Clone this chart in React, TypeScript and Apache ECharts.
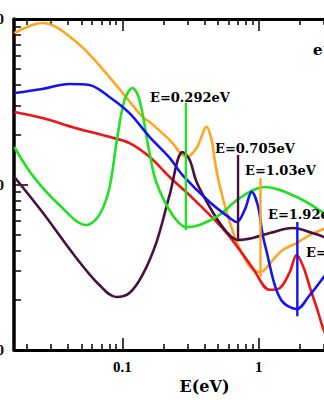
import React, { useEffect, useRef } from "react";
import * as echarts from "echarts";

// ---- axis ticks ----
const xMajorTicks = [0.1, 1, 10];
const xMinorTicks = [0.02, 0.03, 0.04, 0.05, 0.06, 0.07, 0.08, 0.09, 0.2, 0.3, 0.4, 0.5, 0.6, 0.7, 0.8, 0.9, 2, 3, 4, 5, 6, 7, 8, 9];
const yMajorTicks = [10, 100, 1000];
const yMinorTicks = [20, 30, 40, 50, 60, 70, 80, 90, 200, 300, 400, 500, 600, 700, 800, 900];
const xLabels = [0.1, 1];
const yLabels = [10, 100, 1000];

// ---- curves: [E (eV), value] ----
const orangeCurve = [
  [0.0161, 822], [0.0258, 946], [0.0459, 726], [0.0802, 446], [0.1403, 256], [0.158, 239],
  [0.222, 186], [0.296, 147], [0.35, 166], [0.415, 223], [0.451, 186], [0.475, 141],
  [0.516, 99.3], [0.582, 68.2], [0.689, 45], [0.817, 34], [0.935, 30.0], [1.03, 29.6],
  [1.268, 35], [1.5, 40.2], [1.9, 44.3], [2.37, 49.5], [3.0, 53.9], [3.3, 56]
];
const blueCurve = [
  [0.0161, 357], [0.0258, 378], [0.0408, 405], [0.0572, 399], [0.0802, 338], [0.1126, 270],
  [0.158, 194], [0.222, 145], [0.276, 114], [0.436, 78.3], [0.612, 62.8], [0.689, 59.3],
  [0.789, 70.2], [0.888, 90.2], [0.983, 75.2], [1.07, 49.5], [1.145, 39.1], [1.311, 24.7],
  [1.5, 19.5], [1.9, 17.7], [2.37, 21.5], [2.96, 27.2], [3.3, 31]
];
const redCurve = [
  [0.0161, 274], [0.0258, 252], [0.0459, 219], [0.0802, 194], [0.1126, 178], [0.158, 147],
  [0.222, 111], [0.327, 82.8], [0.582, 50.9], [0.903, 31.3], [1.205, 23.1], [1.43, 23.7],
  [1.69, 29.6], [1.9, 37.5], [2.14, 31.3], [2.37, 24.0], [2.67, 17.9], [2.96, 13.6], [3.3, 11]
];
const greenCurve = [
  [0.0161, 168.5], [0.0218, 114], [0.0344, 75.2], [0.0543, 56.9], [0.0677, 65.5], [0.0802, 95.3],
  [0.0903, 178], [0.1035, 324], [0.1185, 383], [0.1334, 324], [0.158, 155], [0.178, 102],
  [0.233, 65.5], [0.296, 55.3], [0.368, 56.9], [0.516, 65.5], [0.725, 82.8], [1.107, 96.6],
  [1.9, 84.0], [3.0, 67.3], [3.3, 63]
];
const purpleCurve = [
  [0.0161, 111], [0.0258, 68.2], [0.0459, 36], [0.0677, 24.7], [0.0903, 20.9], [0.1126, 22.1],
  [0.1403, 28.4], [0.178, 45], [0.222, 86.5], [0.276, 157], [0.311, 141], [0.35, 103.5],
  [0.459, 68.2], [0.582, 51.6], [0.70, 46.2], [0.903, 47.5], [1.205, 50.9], [1.78, 54.6],
  [2.49, 50.9], [3.0, 48.2], [3.3, 46.5]
];

// ---- narrow resonances (vertical spikes) ----
const spikeEnergies = [0.292, 0.705, 1.03, 1.92];
const spikeTops = [311, 151, 109, 59.3];
const spikeBottoms = [53.1, 46, 27.6, 16.0];
const spikeColors = ["#22e022", "#4a0f3f", "#ffa51f", "#1414f0"];

const annotationTexts = ["E=0.292eV", "E=0.705eV", "E=1.03eV", "E=1.92eV", "E=3.35eV", "e\u207B"];

const COLORS = {
  orange: "#ffa51f",
  blue: "#1414f0",
  red: "#f01414",
  green: "#22e022",
  purple: "#4a0f3f",
};

const serifBold = { fontFamily: "Liberation Serif", fontWeight: "bold" as const, color: "#000" };

export default function App() {
  const ref = useRef<HTMLDivElement>(null);

  useEffect(() => {
    if (!ref.current) return;
    const chart = echarts.init(ref.current, undefined, { renderer: "svg" });

    const xBase = {
      type: "log" as const,
      logBase: 10,
      min: 0.016,
      max: 10,
      gridIndex: 0,
      splitLine: { show: false },
      minorTick: { show: false },
    };
    const yBase = {
      type: "log" as const,
      logBase: 10,
      min: 10,
      max: 1000,
      gridIndex: 0,
      splitLine: { show: false },
      minorTick: { show: false },
    };

    const lineSeries = (name: string, data: number[][], color: string) => ({
      type: "line" as const,
      name,
      data,
      xAxisIndex: 0,
      yAxisIndex: 0,
      smooth: 0.35,
      showSymbol: false,
      symbol: "none",
      lineStyle: { color, width: 2.6 },
      z: 3,
    });

    const spikeSeries = spikeEnergies.map((e, i) => ({
      type: "line" as const,
      name: "spike" + i,
      data: [[e, spikeTops[i]], [e, spikeBottoms[i]]],
      xAxisIndex: 0,
      yAxisIndex: 0,
      showSymbol: false,
      symbol: "none",
      lineStyle: { color: spikeColors[i], width: 2.4 },
      z: 4,
    }));

    const annPos = [
      [150, 97],
      [215, 148],
      [245, 170],
      [268, 214],
      [306, 252],
      [313, 50],
    ];

    const option = {
      animation: false,
      backgroundColor: "#fff",
      grid: { left: 14, right: 0, top: 19, bottom: 50, containLabel: false, outerBoundsMode: "none" },
      xAxis: [
        {
          ...xBase,
          position: "bottom",
          axisLine: { show: true, lineStyle: { color: "#000", width: 3 } },
          axisTick: { show: true, inside: true, length: 12, customValues: xMajorTicks, lineStyle: { color: "#000", width: 1.5 } },
          axisLabel: {
            show: true,
            customValues: xLabels,
            margin: 9,
            formatter: (v: number) => String(v),
            ...serifBold,
            fontSize: 15,
          },
          name: "E(eV)",
          nameLocation: "middle",
          nameGap: 28,
          nameTextStyle: { fontFamily: "DejaVu Serif", fontWeight: "bold", fontSize: 16, color: "#000" },
        },
        {
          ...xBase,
          position: "bottom",
          axisLine: { show: false },
          axisTick: { show: true, inside: true, length: 6, customValues: xMinorTicks, lineStyle: { color: "#000", width: 1.5 } },
          axisLabel: { show: false },
        },
        {
          ...xBase,
          position: "top",
          axisLine: { show: true, lineStyle: { color: "#000", width: 3 } },
          axisTick: { show: true, inside: true, length: 12, customValues: xMajorTicks, lineStyle: { color: "#000", width: 1.5 } },
          axisLabel: { show: false },
        },
        {
          ...xBase,
          position: "top",
          axisLine: { show: false },
          axisTick: { show: true, inside: true, length: 6, customValues: xMinorTicks, lineStyle: { color: "#000", width: 1.5 } },
          axisLabel: { show: false },
        },
      ],
      yAxis: [
        {
          ...yBase,
          position: "left",
          axisLine: { show: true, lineStyle: { color: "#000", width: 3.5 } },
          axisTick: { show: true, inside: true, length: 14, customValues: yMajorTicks, lineStyle: { color: "#000", width: 1.5 } },
          axisLabel: {
            show: true,
            customValues: yLabels,
            margin: 10,
            formatter: (v: number) => String(v),
            ...serifBold,
            fontSize: 15,
          },
        },
        {
          ...yBase,
          position: "left",
          axisLine: { show: false },
          axisTick: { show: true, inside: true, length: 7, customValues: yMinorTicks, lineStyle: { color: "#000", width: 1.5 } },
          axisLabel: { show: false },
        },
      ],
      series: [
        lineSeries("orange", orangeCurve, COLORS.orange),
        lineSeries("red", redCurve, COLORS.red),
        lineSeries("purple", purpleCurve, COLORS.purple),
        lineSeries("green", greenCurve, COLORS.green),
        lineSeries("blue", blueCurve, COLORS.blue),
        ...spikeSeries,
      ],
      graphic: annotationTexts.map((t, i) => ({
        type: "text",
        x: annPos[i][0],
        y: annPos[i][1],
        z: 10,
        style: {
          text: t,
          fill: "#000",
          fontFamily: "DejaVu Serif",
          fontWeight: "bold",
          fontSize: i === 5 ? 15 : 13,
          verticalAlign: "middle",
          align: "left",
        },
      })),
    };

    chart.setOption(option as any);
    return () => chart.dispose();
  }, []);

  return (
    <div style={{ position: "fixed", left: 0, top: 0, width: 324, height: 400, overflow: "hidden", background: "#fff" }}>
      <div ref={ref} style={{ width: 395, height: 400 }} />
    </div>
  );
}
